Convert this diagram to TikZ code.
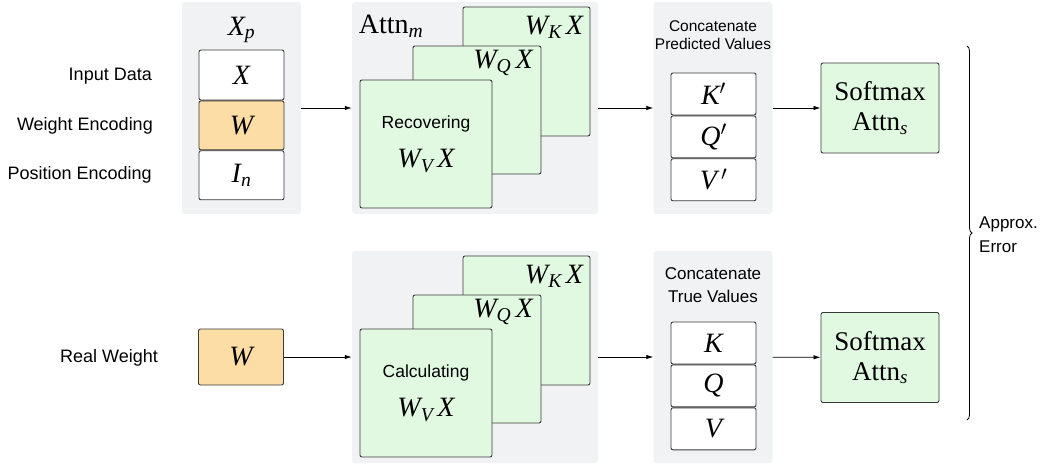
\documentclass[tikz,border=0pt]{standalone}
\usepackage{amsmath}
\usepackage{fontspec}
\setmainfont{Liberation Serif}
\setsansfont{Liberation Sans}
\usepackage{tikz}
\usetikzlibrary{arrows.meta,positioning,decorations.pathreplacing}
\definecolor{panelgray}{HTML}{F1F2F4}
\definecolor{cardgreen}{HTML}{E1F9E1}
\definecolor{wtorange}{HTML}{FDDDA6}
\definecolor{edgegray}{HTML}{3A3A3A}
\newcommand{\mathsz}{\fontsize{28}{32}\selectfont}
\newcommand{\vi}[1]{\text{\itshape #1}}
\tikzset{
  panel/.style={fill=panelgray, rounded corners=3pt, inner sep=0pt},
  valbox/.style={draw=edgegray, rounded corners=2pt, line width=0.9pt, fill=white, minimum width=85pt, minimum height=42pt, inner sep=0pt, font=\mathsz},
  wtbox/.style={valbox, fill=wtorange},
  card/.style={draw=edgegray, rounded corners=2pt, line width=0.9pt, fill=cardgreen, minimum width=128pt, minimum height=128pt, inner sep=0pt},
  smbox/.style={draw=edgegray, rounded corners=2pt, line width=0.9pt, fill=cardgreen, minimum width=118pt, minimum height=90pt, inner sep=0pt, align=center, font=\fontsize{27}{30}\selectfont},
  mathtxt/.style={font=\mathsz, inner sep=0pt},
  sidelbl/.style={font=\sffamily\fontsize{18}{21}\selectfont, anchor=east, inner sep=0pt},
  cardlbl/.style={font=\sffamily\fontsize{17.5}{20}\selectfont, inner sep=0pt},
  toptitle/.style={font=\sffamily\fontsize{15.5}{18}\selectfont, align=center, inner sep=0pt},
  lowtitle/.style={font=\sffamily\fontsize{17}{23}\selectfont, align=center, inner sep=0pt},
  ogline/.style={-{Latex[length=7pt,width=4.5pt]}, line width=0.8pt}
}

\begin{document}
\begin{tikzpicture}[x=1pt, y=-1pt]
  \useasboundingbox (0,0) rectangle (1047,465);
  % upper row: predicted path
  \node[panel, minimum width=119pt, minimum height=212pt] (xp) at (241.5,108) {};
  \node[mathtxt] (xplbl) at (241.5,30) {$\vi{X}_{\vi{p}}$};
  \node[valbox, minimum height=50pt] (xin) at (241.5,75) {$\vi{X}$};
  \node[wtbox, minimum height=49pt, below=0pt of xin] (win) {$\vi{W}$};
  \node[valbox, minimum height=49pt, below=0pt of win] (iin) {$\vi{I}_{\vi{n}}$};
  \node[sidelbl] (lin) at (152,76) {Input Data};
  \node[sidelbl] (lwe) at (153,126) {Weight Encoding};
  \node[sidelbl] (lpe) at (152,175) {Position Encoding};

  \node[panel, minimum width=246pt, minimum height=212pt] (attnm) at (475,108) {};
  \node[mathtxt] (attnlbl) at (391,26) {$\text{Attn}_{\vi{m}}$};
  \node[card, minimum width=127pt, minimum height=129pt] (kcard) at (526.5,71.5) {};
  \node[mathtxt] (wk) at (554,27) {$\vi{W}_{\vi{K}}\,\vi{X}$};
  \node[card] (qcard) at (477,110) {};
  \node[mathtxt] (wq) at (503,63) {$\vi{W}_{\vi{Q}}\,\vi{X}$};
  \node[card, minimum width=132pt] (vcard) at (426,144) {};
  \node[cardlbl] (rec) at (426,124) {Recovering};
  \node[mathtxt] (wv) at (426,161) {$\vi{W}_{\vi{V}}\,\vi{X}$};

  \node[panel, minimum width=119pt, minimum height=212pt] (cpred) at (713,108) {};
  \node[toptitle] (cptitle) at (713,35) {Concatenate\\Predicted Values};
  \node[valbox] (kp) at (713.5,94) {$\vi{K}'$};
  \node[valbox, below=0pt of kp] (qp) {$\vi{Q}'$};
  \node[valbox, below=0pt of qp] (vp) {$\vi{V}\mkern3mu'$};

  \node[smbox] (smp) at (880,108) {Softmax\\$\text{Attn}_{\vi{s}}$};

  \draw[ogline] (xp) -- (attnm);
  \draw[ogline] (attnm) -- (cpred);
  \draw[ogline] (cpred) -- (smp);

  % lower row: true path
  \node[wtbox, minimum height=56pt] (wreal) at (241,357) {$\vi{W}$};
  \node[sidelbl] (lrw) at (158,358) {Real Weight};

  \node[panel, minimum width=246pt, minimum height=212pt] (attnc) at (475,357) {};
  \node[card, minimum width=127pt, minimum height=129pt] (kcardc) at (526.5,320.5) {};
  \node[mathtxt] (wkc) at (554,276) {$\vi{W}_{\vi{K}}\,\vi{X}$};
  \node[card] (qcardc) at (477,359) {};
  \node[mathtxt] (wqc) at (503,312) {$\vi{W}_{\vi{Q}}\,\vi{X}$};
  \node[card, minimum width=132pt] (vcardc) at (426,393) {};
  \node[cardlbl] (calc) at (426,373) {Calculating};
  \node[mathtxt] (wvc) at (426,410) {$\vi{W}_{\vi{V}}\,\vi{X}$};

  \node[panel, minimum width=119pt, minimum height=212pt] (ctrue) at (713,357) {};
  \node[lowtitle] (cttitle) at (713,285.5) {Concatenate\\True Values};
  \node[valbox] (kt) at (713.5,343) {$\vi{K}$};
  \node[valbox, below=0pt of kt] (qt) {$\vi{Q}$};
  \node[valbox, below=0pt of qt] (vt) {$\vi{V}$};

  \node[smbox] (smt) at (880,357.5) {Softmax\\$\text{Attn}_{\vi{s}}$};

  \draw[ogline] (wreal) -- (attnc);
  \draw[ogline] (attnc) -- (ctrue);
  \draw[ogline] (ctrue) -- (smt);

  % error brace
  \coordinate (btop) at (967,46);
  \coordinate (bbot) at (967,420);
  \draw[line width=0.8pt, decorate, decoration={brace, amplitude=5pt}] (btop) -- (bbot);
  \node[font=\sffamily\fontsize{17}{24}\selectfont, align=left, anchor=west, inner sep=0pt] (err) at (979,235) {Approx.\\Error};
\end{tikzpicture}
\end{document}
